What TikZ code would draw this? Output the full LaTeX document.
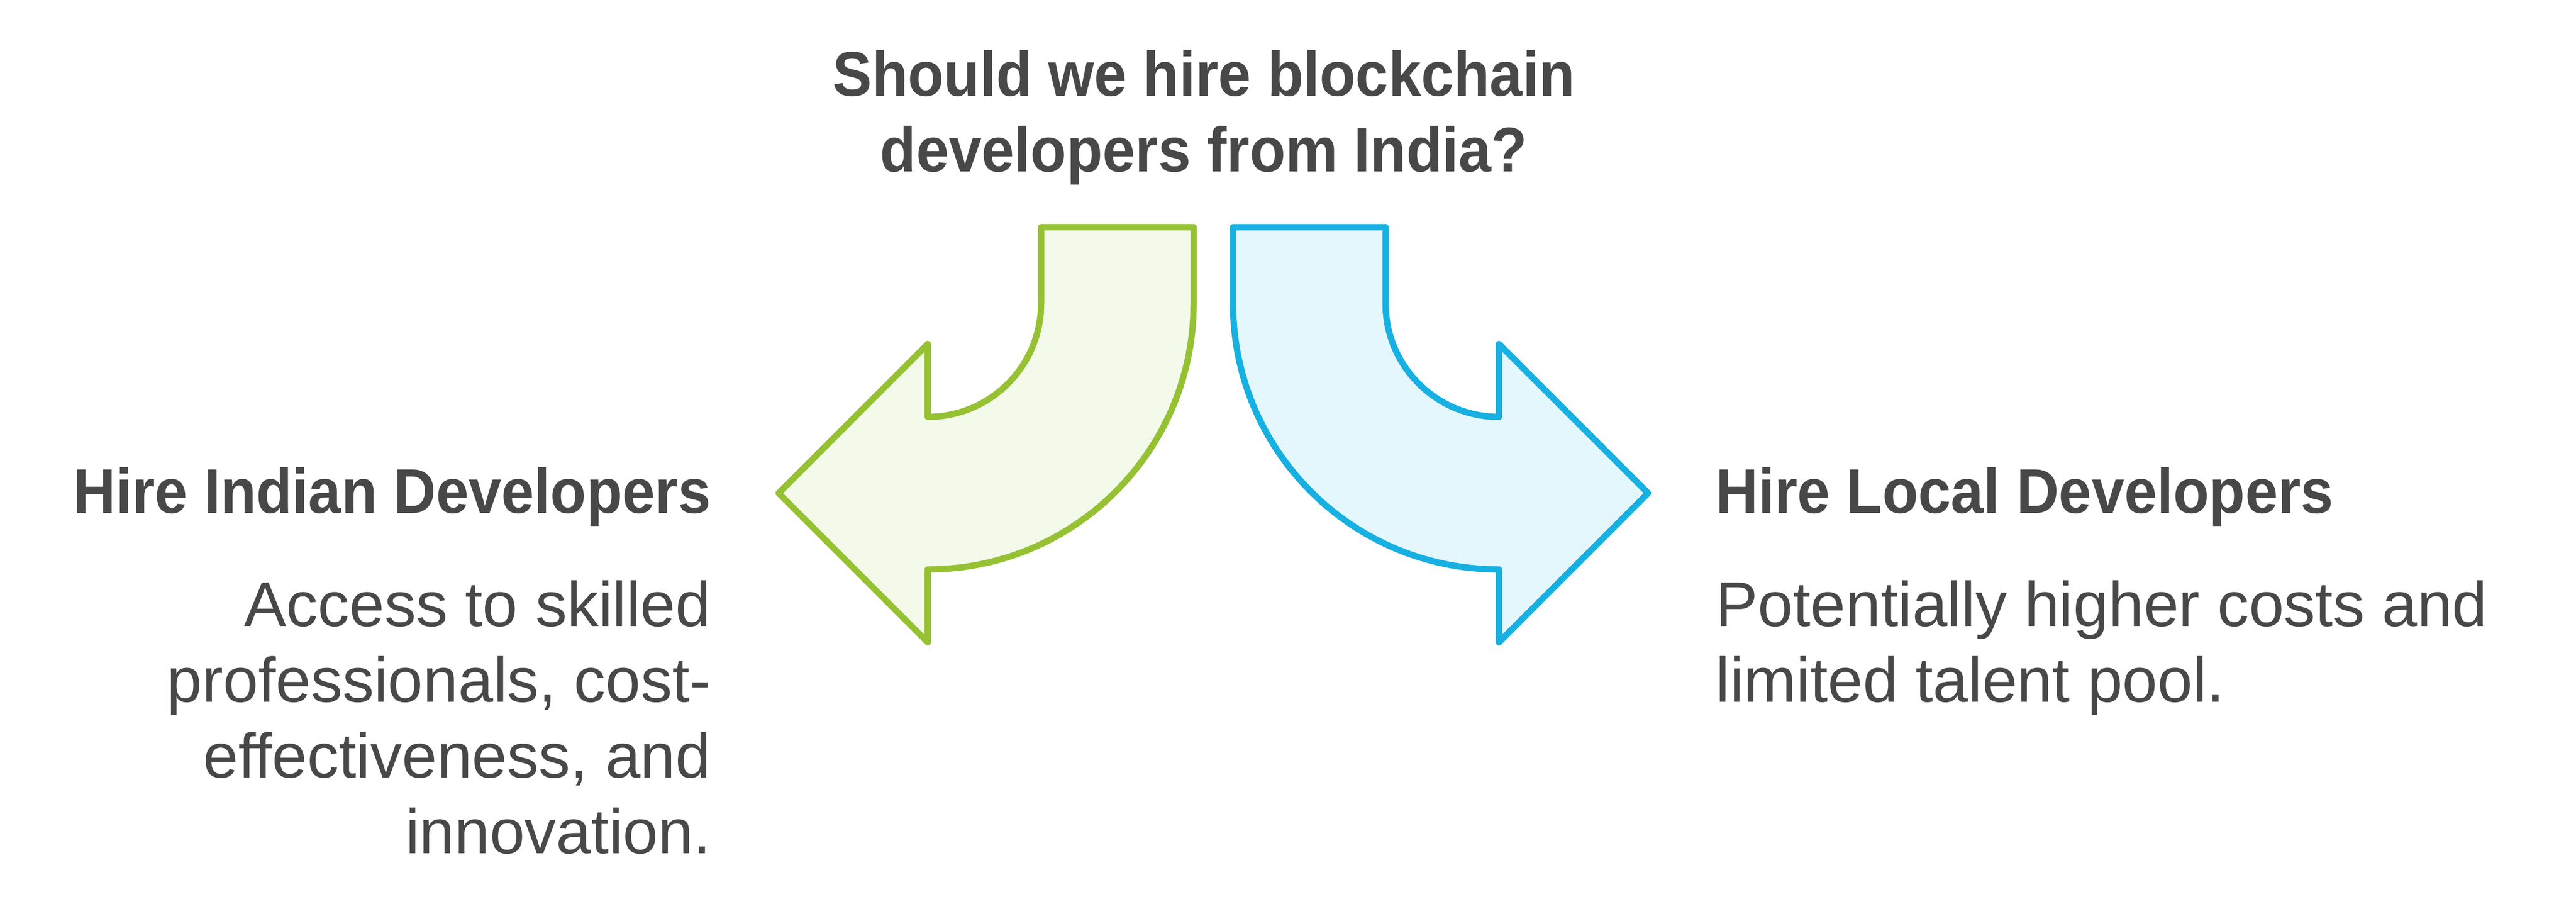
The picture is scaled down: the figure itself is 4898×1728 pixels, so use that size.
\documentclass[tikz,border=0pt]{standalone}
\usepackage{fontspec}
\setmainfont{Liberation Sans}
\newfontfamily\headfont{Liberation Sans}[FakeStretch=0.932]
\definecolor{txt}{HTML}{484848}
\definecolor{gstroke}{HTML}{95C133}
\definecolor{gfill}{HTML}{F3FAE9}
\definecolor{bstroke}{HTML}{17B0E2}
\definecolor{bfill}{HTML}{E4F7FD}
\tikzset{
  arrowshape/.style={line width=6pt, line join=round},
  headtext/.style={inner sep=0pt, text=txt, font=\headfont\bfseries\fontsize{60}{72}\selectfont},
  bodytext/.style={inner sep=0pt, text=txt, font=\fontsize{60}{72}\selectfont},
}
\begin{document}
\begin{tikzpicture}[x=0.5pt, y=-0.5pt]
\useasboundingbox (0,0) rectangle (4898,1728);
\def\A{2307}
% green arrow (left)
\draw[arrowshape, draw=gstroke, fill=gfill]
  (\A-37.5,432) -- (\A-327.5,432) -- (\A-327.5,577)
  arc[start angle=0, end angle=90, radius=215.5]
  -- (\A-543,654) -- (\A-826.5,937.5) -- (\A-543,1221) -- (\A-543,1082.5)
  arc[start angle=90, end angle=0, radius=505.5]
  -- cycle;
% blue arrow (right)
\draw[arrowshape, draw=bstroke, fill=bfill]
  (\A+37.5,432) -- (\A+327.5,432) -- (\A+327.5,577)
  arc[start angle=180, end angle=90, radius=215.5]
  -- (\A+543,654) -- (\A+826.5,937.5) -- (\A+543,1221) -- (\A+543,1082.5)
  arc[start angle=90, end angle=180, radius=505.5]
  -- cycle;
% texts (base anchor of a multi-line node = baseline of its last line)
\node[headtext, anchor=base, align=center] (title) at (2289,326.7)
  {Should we hire blockchain\\developers from India?};
\node[headtext, anchor=base east] (lhead) at (1352,975) {Hire Indian Developers};
\node[bodytext, anchor=base east, align=right] (ldesc) at (1352,1622)
  {Access to skilled\\professionals, cost-\\effectiveness, and\\innovation.};
\node[headtext, anchor=base west] (rhead) at (3262,975) {Hire Local Developers};
\node[bodytext, anchor=base west, align=left] (rdesc) at (3262,1334)
  {Potentially higher costs and\\limited talent pool.};
\end{tikzpicture}
\end{document}
